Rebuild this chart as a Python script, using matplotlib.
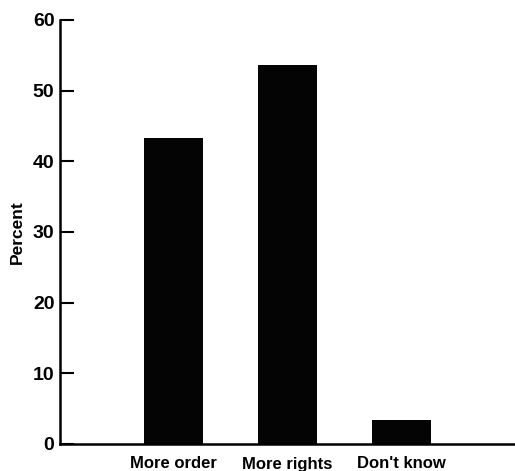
import numpy as np
import matplotlib.pyplot as plt

categories = ['More order', 'More rights', "Don't know"]
percent = [43.3, 53.6, 3.4]
yticks = [0, 10, 20, 30, 40, 50, 60]

plt.rcParams['font.family'] = ['Liberation Sans', 'DejaVu Sans']
plt.rcParams['font.weight'] = 'bold'

fig = plt.figure(figsize=(5.15, 4.71), dpi=100)
ax = fig.add_axes([60 / 515, 27 / 471, 455 / 515, 424 / 471])

x = np.arange(len(categories))
ax.bar(x, percent, width=0.52, color='#040404')

ax.set_xlim(-1, 3)
ax.set_ylim(0, 60)
ax.set_yticks(yticks)
ax.set_xticks(x)
ax.set_xticklabels(categories, fontsize=12, fontweight='bold')
ax.tick_params(axis='y', direction='in', length=10, width=1.5, labelsize=14, pad=4)
ax.tick_params(axis='x', length=0, pad=9)
for lab in ax.get_yticklabels():
    lab.set_fontweight('bold')

ax.spines['top'].set_visible(False)
ax.spines['right'].set_visible(False)
ax.spines['left'].set_linewidth(1.8)
ax.spines['bottom'].set_linewidth(1.8)

ax.set_ylabel('Percent', fontsize=12.5, fontweight='bold', labelpad=6)

fig.savefig('out.png', dpi=100)
